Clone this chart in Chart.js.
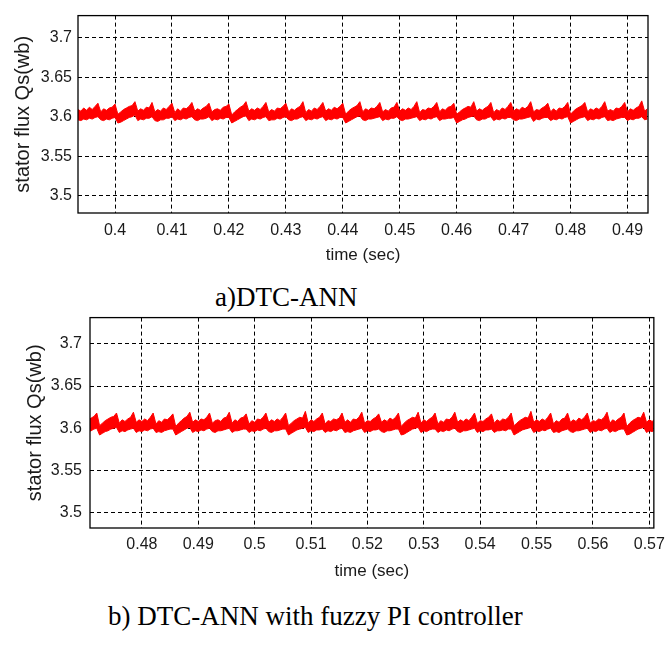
<!DOCTYPE html>
<html>
<head>
<meta charset="utf-8">
<script src="https://cdn.jsdelivr.net/npm/chart.js@4.4.1/dist/chart.umd.min.js"></script>
<style>
  html, body { margin: 0; padding: 0; background: #fff; }
  body { width: 672px; height: 662px; position: relative; overflow: hidden; }
  canvas { position: absolute; left: 0; }
  .caption { position: absolute; font-family: 'Liberation Serif', 'Times New Roman', serif; font-size: 27px; line-height: 1; color: #000; white-space: nowrap; }
</style>
</head>
<body>
<canvas id="chart1" width="672" height="270" style="top:0"></canvas>
<div class="caption" style="left:215px; top:284px;">a)DTC-ANN</div>
<canvas id="chart2" width="672" height="300" style="top:300px"></canvas>
<div class="caption" style="left:108px; top:603px;">b) DTC-ANN with fuzzy PI controller</div>

<script>
// sampling of the traces (sec)
const start1 = 0.3935, start2 = 0.4705, step = 0.0005;

// a) DTC-ANN : upper / lower edge of the flux ripple band (wb)
const fluxHi1 = [
  3.609,3.607,3.611,3.608,3.612,3.609,3.613,3.617,
  3.606,3.610,3.608,3.611,3.612,3.616,
  3.603,3.606,3.609,3.611,3.613,3.614,3.619,
  3.607,3.610,3.608,3.612,3.611,3.618,
  3.606,3.609,3.607,3.611,3.609,3.613,3.617,
  3.605,3.610,3.607,3.611,3.610,3.613,3.618,
  3.607,3.610,3.608,3.611,3.613,3.617,
  3.606,3.609,3.610,3.608,3.612,3.613,3.616,
  3.602,3.606,3.609,3.612,3.614,3.619,
  3.607,3.610,3.608,3.611,3.609,3.613,3.618,
  3.606,3.609,3.607,3.611,3.610,3.613,3.617,
  3.606,3.610,3.608,3.611,3.613,3.619,
  3.605,3.609,3.607,3.611,3.609,3.613,3.618,
  3.607,3.610,3.608,3.612,3.610,3.613,3.617,
  3.603,3.607,3.610,3.612,3.614,3.619,
  3.606,3.610,3.608,3.611,3.610,3.613,3.618,
  3.606,3.609,3.607,3.611,3.612,3.618,
  3.607,3.610,3.608,3.611,3.609,3.613,3.619,
  3.605,3.609,3.608,3.611,3.610,3.613,3.618,
  3.606,3.610,3.608,3.612,3.613,3.617,
  3.603,3.606,3.609,3.611,3.613,3.612,3.619,
  3.607,3.610,3.608,3.611,3.613,3.618,
  3.605,3.609,3.607,3.611,3.609,3.613,3.618,
  3.607,3.610,3.608,3.612,3.610,3.613,3.619,
  3.606,3.609,3.608,3.611,3.613,3.617,
  3.606,3.610,3.607,3.611,3.610,3.613,3.618,
  3.603,3.607,3.610,3.612,3.614,3.618,
  3.606,3.610,3.608,3.611,3.609,3.613,3.619,
  3.607,3.609,3.607,3.611,3.610,3.613,3.618,
  3.606,3.610,3.608,3.611,3.613,3.620,
  3.607,3.610
];
const fluxLo1 = [
  3.596,3.595,3.597,3.596,3.598,3.597,3.599,3.600,
  3.596,3.595,3.597,3.596,3.598,3.599,
  3.592,3.593,3.595,3.597,3.599,3.600,3.602,
  3.595,3.597,3.596,3.598,3.598,3.600,
  3.595,3.594,3.596,3.596,3.598,3.598,3.600,
  3.595,3.597,3.596,3.598,3.597,3.599,3.600,
  3.596,3.595,3.597,3.597,3.598,3.600,
  3.595,3.597,3.596,3.598,3.597,3.599,3.599,
  3.592,3.594,3.596,3.598,3.600,3.601,
  3.595,3.597,3.596,3.598,3.597,3.599,3.600,
  3.595,3.596,3.596,3.598,3.597,3.599,3.600,
  3.596,3.595,3.597,3.597,3.599,3.600,
  3.595,3.597,3.596,3.598,3.597,3.599,3.600,
  3.595,3.597,3.596,3.598,3.597,3.599,3.599,
  3.592,3.594,3.596,3.598,3.600,3.601,
  3.596,3.595,3.597,3.597,3.598,3.599,3.600,
  3.595,3.597,3.596,3.598,3.598,3.600,
  3.596,3.595,3.597,3.597,3.598,3.599,3.600,
  3.595,3.597,3.596,3.598,3.597,3.599,3.600,
  3.595,3.597,3.597,3.598,3.598,3.599,
  3.592,3.594,3.596,3.597,3.599,3.600,3.601,
  3.596,3.595,3.597,3.597,3.599,3.600,
  3.595,3.597,3.596,3.598,3.597,3.599,3.599,
  3.596,3.595,3.597,3.597,3.598,3.599,3.600,
  3.594,3.597,3.596,3.598,3.599,3.599,
  3.595,3.597,3.596,3.598,3.597,3.599,3.600,
  3.592,3.594,3.596,3.598,3.599,3.600,
  3.595,3.597,3.596,3.598,3.597,3.599,3.600,
  3.595,3.596,3.595,3.597,3.598,3.599,3.599,
  3.595,3.597,3.596,3.598,3.598,3.600,
  3.596,3.597
];

// b) DTC-ANN with fuzzy PI controller
const fluxHi2 = [
  3.610,3.612,3.614,3.618,
  3.603,3.606,3.609,3.611,3.613,3.614,3.618,
  3.606,3.610,3.608,3.611,3.613,3.619,
  3.607,3.610,3.608,3.611,3.609,3.613,3.618,
  3.605,3.609,3.607,3.611,3.610,3.613,3.617,
  3.602,3.606,3.609,3.612,3.614,3.619,
  3.607,3.610,3.608,3.611,3.610,3.613,3.618,
  3.606,3.609,3.610,3.608,3.612,3.613,3.619,
  3.606,3.610,3.608,3.612,3.613,3.617,
  3.605,3.609,3.607,3.611,3.610,3.613,3.618,
  3.607,3.610,3.608,3.611,3.609,3.613,3.618,
  3.603,3.606,3.609,3.611,3.613,3.612,3.620,
  3.606,3.610,3.608,3.611,3.613,3.618,
  3.605,3.609,3.608,3.611,3.610,3.612,3.618,
  3.607,3.610,3.607,3.611,3.610,3.613,3.619,
  3.606,3.609,3.608,3.611,3.613,3.617,
  3.607,3.610,3.608,3.612,3.610,3.613,3.618,
  3.602,3.606,3.609,3.611,3.613,3.612,3.619,
  3.606,3.610,3.608,3.611,3.613,3.618,
  3.605,3.609,3.607,3.611,3.610,3.613,3.619,
  3.607,3.610,3.608,3.611,3.609,3.613,3.618,
  3.606,3.609,3.608,3.611,3.613,3.617,
  3.606,3.610,3.608,3.611,3.610,3.613,3.618,
  3.603,3.606,3.609,3.611,3.613,3.612,3.620,
  3.607,3.610,3.608,3.611,3.609,3.613,3.618,
  3.605,3.609,3.607,3.611,3.612,3.618,
  3.607,3.610,3.608,3.612,3.610,3.613,3.618,
  3.606,3.609,3.608,3.611,3.610,3.613,3.619,
  3.606,3.610,3.608,3.611,3.613,3.618,
  3.602,3.606,3.609,3.611,3.613,3.612,3.619,
  3.607,3.610,3.608,3.611
];
const fluxLo2 = [
  3.596,3.597,3.599,3.600,
  3.592,3.594,3.596,3.597,3.599,3.600,3.601,
  3.595,3.597,3.596,3.598,3.599,3.600,
  3.595,3.597,3.596,3.598,3.597,3.599,3.600,
  3.595,3.596,3.595,3.597,3.598,3.599,3.599,
  3.592,3.594,3.596,3.598,3.600,3.601,
  3.595,3.597,3.596,3.598,3.597,3.599,3.600,
  3.596,3.595,3.597,3.597,3.598,3.599,3.600,
  3.595,3.597,3.597,3.598,3.599,3.599,
  3.595,3.597,3.596,3.598,3.597,3.599,3.600,
  3.596,3.595,3.597,3.597,3.598,3.599,3.599,
  3.592,3.594,3.596,3.598,3.599,3.600,3.601,
  3.595,3.597,3.596,3.598,3.598,3.599,
  3.595,3.597,3.596,3.598,3.597,3.599,3.600,
  3.595,3.596,3.595,3.597,3.598,3.599,3.600,
  3.595,3.597,3.596,3.598,3.598,3.599,
  3.596,3.595,3.597,3.597,3.598,3.599,3.599,
  3.592,3.593,3.595,3.597,3.599,3.600,3.601,
  3.595,3.597,3.596,3.598,3.599,3.599,
  3.595,3.597,3.596,3.598,3.597,3.599,3.600,
  3.596,3.595,3.597,3.597,3.598,3.599,3.600,
  3.595,3.597,3.596,3.598,3.598,3.599,
  3.595,3.597,3.597,3.598,3.597,3.599,3.599,
  3.592,3.594,3.596,3.598,3.599,3.600,3.601,
  3.595,3.597,3.596,3.598,3.597,3.599,3.600,
  3.595,3.596,3.595,3.597,3.598,3.599,
  3.596,3.595,3.597,3.597,3.598,3.599,3.600,
  3.595,3.597,3.596,3.598,3.597,3.599,3.600,
  3.595,3.597,3.596,3.598,3.599,3.599,
  3.592,3.593,3.595,3.597,3.599,3.600,3.601,
  3.595,3.597,3.596,3.598
];

// tick values
const xTicks1 = [0.4, 0.41, 0.42, 0.43, 0.44, 0.45, 0.46, 0.47, 0.48, 0.49];
const xTicks2 = [0.48, 0.49, 0.5, 0.51, 0.52, 0.53, 0.54, 0.55, 0.56, 0.57];
const yTicks = [3.5, 3.55, 3.6, 3.65, 3.7];

const tickFont = { family: "'Liberation Sans', Arial, sans-serif", size: 16 };
const xTitleFont = { family: "'Liberation Sans', Arial, sans-serif", size: 17 };
const yTitleFont = { family: "'Liberation Sans', Arial, sans-serif", size: 20 };

// black box around the axes, like matlab
const axesBox = {
    id: 'axesBox',
    afterDraw(chart) {
        const { ctx, chartArea: a } = chart;
        ctx.save();
        ctx.strokeStyle = '#000';
        ctx.lineWidth = 1.3;
        ctx.strokeRect(a.left, a.top, a.right - a.left, a.bottom - a.top);
        ctx.restore();
    }
};

function drawFlux(id, t0, hi, lo, xTicks, g) {
    const pts = arr => arr.map((v, i) => ({ x: t0 + i * step, y: v }));
    new Chart(document.getElementById(id), {
        type: 'line',
        data: {
            datasets: [
                { data: pts(lo), borderColor: '#ff0000', borderWidth: 1, pointRadius: 0, fill: false },
                { data: pts(hi), borderColor: '#ff0000', borderWidth: 1, pointRadius: 0, fill: '-1', backgroundColor: '#ff0000' }
            ]
        },
        options: {
            responsive: false,
            animation: false,
            events: [],
            layout: { padding: g.pad },
            plugins: { legend: { display: false }, tooltip: { enabled: false } },
            scales: {
                x: {
                    type: 'linear', min: g.xMin, max: g.xMax, z: 1,
                    afterBuildTicks: s => { s.ticks = xTicks.map(v => ({ value: v })); },
                    afterFit: s => { s.height = g.xH; },
                    grid: { color: '#000', lineWidth: 1, drawTicks: false },
                    border: { display: false, dash: [4, 3] },
                    ticks: { font: tickFont, color: '#1a1a1a', padding: g.xTickPad, maxRotation: 0, autoSkip: false, callback: v => String(v) },
                    title: { display: true, text: 'time (sec)', font: xTitleFont, color: '#1a1a1a', padding: { top: 0, bottom: g.xTitlePad } }
                },
                y: {
                    min: g.yMin, max: g.yMax, z: 1,
                    afterBuildTicks: s => { s.ticks = yTicks.map(v => ({ value: v })); },
                    afterFit: s => { s.width = g.yW; },
                    grid: { color: '#000', lineWidth: 1, drawTicks: false },
                    border: { display: false, dash: [4, 3] },
                    ticks: { font: tickFont, color: '#1a1a1a', padding: g.yTickPad, callback: v => String(v) },
                    title: { display: true, text: 'stator flux Qs(wb)', font: yTitleFont, color: '#1a1a1a', padding: { top: g.yTitlePad, bottom: 0 } }
                }
            }
        },
        plugins: [axesBox]
    });
}

drawFlux('chart1', start1, fluxHi1, fluxLo1, xTicks1, {
    pad: { left: 0, top: 7, right: 24, bottom: 0 },
    xMin: 0.3935, xMax: 0.4936, yMin: 3.478, yMax: 3.728,
    xH: 57, yW: 78, xTickPad: 8, xTitlePad: 4, yTickPad: 6, yTitlePad: 11
});
drawFlux('chart2', start2, fluxHi2, fluxLo2, xTicks2, {
    pad: { left: 0, top: 16, right: 12, bottom: 0 },
    xMin: 0.4708, xMax: 0.5708, yMin: 3.4817, yMax: 3.7312,
    xH: 72, yW: 90, xTickPad: 7, xTitlePad: 18, yTickPad: 8, yTitlePad: 23
});
</script>
</body>
</html>
